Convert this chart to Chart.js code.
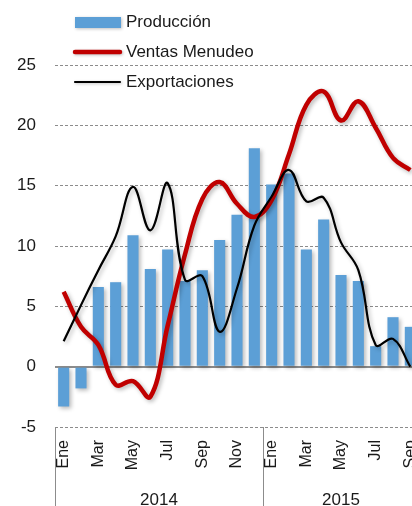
<!DOCTYPE html>
<html>
<head>
<meta charset="utf-8">
<script src="https://cdn.jsdelivr.net/npm/chart.js@4"></script>
<style>
  html, body { margin: 0; padding: 0; overflow: hidden; background: #fff; }
  canvas { display: block; }
</style>
</head>
<body>
<canvas id="chart" width="426" height="506"></canvas>
<script>
// data (annual % change)
const months = ['Ene', 'Feb', 'Mar', 'Abr', 'May', 'Jun', 'Jul', 'Ago', 'Sep', 'Oct', 'Nov', 'Dic',
  'Ene', 'Feb', 'Mar', 'Abr', 'May', 'Jun', 'Jul', 'Ago', 'Sep'];
const years = ['2014', '2015'];
const yearLengths = [12, 9];

const produccion = [-3.3, -1.8, 6.6, 7.0, 10.9, 8.1, 9.7, 7.1, 8.0, 10.5, 12.6, 18.1,
  15.1, 16.0, 9.7, 12.2, 7.6, 7.1, 1.7, 4.1, 3.3];
const ventasMenudeo = [6.2, 3.3, 1.8, -1.5, -1.2, -2.5, 3.4, 9.3, 13.9, 15.3, 13.5, 12.4,
  13.8, 17.6, 21.7, 22.8, 20.4, 22.0, 19.8, 17.3, 16.3];
const exportaciones = [2.1, 5.1, 8.0, 10.8, 14.9, 11.3, 15.2, 7.2, 7.5, 2.9, 6.5, 11.7,
  14.1, 16.3, 13.7, 14.0, 10.3, 8.0, 1.8, 2.3, 0.0];

const yTicks = [-5, 0, 5, 10, 15, 20, 25];

const FONT = '"Liberation Sans", Arial, sans-serif';
const TEXT = '#1a1a1a';
const GRID = '#8c8c8c';

// shadow behind every dataset
const shadowPlugin = {
  id: 'shadow',
  beforeDatasetDraw(chart) {
    const ctx = chart.ctx;
    ctx.save();
    ctx.shadowColor = 'rgba(0,0,0,0.28)';
    ctx.shadowBlur = 4;
    ctx.shadowOffsetX = 2;
    ctx.shadowOffsetY = 2;
  },
  afterDatasetDraw(chart) {
    chart.ctx.restore();
  }
};

// year row under the months + legend in the top left
const extrasPlugin = {
  id: 'extras',
  afterDraw(chart) {
    const ctx = chart.ctx;
    const x = chart.scales.x;
    const area = chart.chartArea;
    const step = x.width / months.length;
    ctx.save();

    // group separators and years
    ctx.strokeStyle = GRID;
    ctx.lineWidth = 1;
    let start = 0;
    for (let i = 0; i <= years.length; i++) {
      const px = Math.round(x.getPixelForValue(start) - step / 2) + 0.5;
      ctx.beginPath();
      ctx.moveTo(px, area.bottom);
      ctx.lineTo(px, chart.height);
      ctx.stroke();
      if (i < years.length) {
        const left = x.getPixelForValue(start) - step / 2;
        const right = x.getPixelForValue(start + yearLengths[i] - 1) + step / 2;
        ctx.fillStyle = TEXT;
        ctx.font = '17px ' + FONT;
        ctx.textAlign = 'center';
        ctx.textBaseline = 'alphabetic';
        ctx.fillText(years[i], (left + right) / 2, 505);
        start += yearLengths[i];
      }
    }

    // legend
    const items = chart.data.datasets;
    ctx.font = '17px ' + FONT;
    ctx.textAlign = 'left';
    ctx.textBaseline = 'middle';
    items.forEach((ds, i) => {
      const cy = 22 + i * 30;
      ctx.save();
      ctx.shadowColor = 'rgba(0,0,0,0.25)';
      ctx.shadowBlur = 3;
      ctx.shadowOffsetX = 1;
      ctx.shadowOffsetY = 1;
      if (ds.type === 'bar') {
        ctx.fillStyle = ds.backgroundColor;
        ctx.fillRect(75, cy - 5, 46, 11);
      } else {
        ctx.strokeStyle = ds.borderColor;
        ctx.lineWidth = ds.borderWidth;
        ctx.lineCap = 'round';
        ctx.beginPath();
        ctx.moveTo(75, cy);
        ctx.lineTo(120, cy);
        ctx.stroke();
      }
      ctx.restore();
      ctx.fillStyle = TEXT;
      ctx.fillText(ds.label, 126, cy);
    });
    ctx.restore();
  }
};

const chart = new Chart(document.getElementById('chart'), {
  data: {
    labels: months,
    datasets: [
      {
        type: 'bar',
        label: 'Producción',
        data: produccion,
        backgroundColor: '#5c9fd6',
        barPercentage: 1,
        categoryPercentage: 0.64,
        order: 3
      },
      {
        type: 'line',
        label: 'Ventas Menudeo',
        data: ventasMenudeo,
        borderColor: '#c00000',
        borderWidth: 4.5,
        tension: 0.4,
        pointRadius: 0,
        fill: false,
        order: 2
      },
      {
        type: 'line',
        label: 'Exportaciones',
        data: exportaciones,
        borderColor: '#000000',
        borderWidth: 2.2,
        tension: 0.4,
        pointRadius: 0,
        fill: false,
        order: 1
      }
    ]
  },
  options: {
    responsive: false,
    animation: false,
    layout: { padding: { top: 65, right: 7, left: 0, bottom: 0 } },
    plugins: {
      legend: { display: false },
      tooltip: { enabled: false }
    },
    scales: {
      x: {
        offset: true,
        grid: { display: false, drawTicks: false },
        border: { display: false },
        ticks: {
          autoSkip: false,
          minRotation: 90,
          maxRotation: 90,
          padding: 13,
          color: TEXT,
          font: { family: FONT, size: 16 },
          callback: (v, i) => (i % 2 === 0 ? months[i] : '')
        },
        afterFit: (scale) => {
          scale.height = 79;
          scale.paddingLeft = 0;
          scale.paddingRight = 0;
        }
      },
      y: {
        min: yTicks[0],
        max: yTicks[yTicks.length - 1],
        afterBuildTicks: (scale) => { scale.ticks = yTicks.map((v) => ({ value: v })); },
        grid: {
          drawTicks: false,
          color: GRID,
          lineWidth: (c) => (c.tick && c.tick.value === 0 ? 2 : 1)
        },
        border: {
          display: false,
          dash: (c) => (c.tick && c.tick.value === 0 ? [] : [3, 2])
        },
        ticks: {
          padding: 19,
          color: TEXT,
          font: { family: FONT, size: 17 }
        },
        afterFit: (scale) => {
          scale.width = 55;
          scale.paddingTop = 0;
          scale.paddingBottom = 0;
        }
      }
    }
  },
  plugins: [shadowPlugin, extrasPlugin]
});
</script>
</body>
</html>
